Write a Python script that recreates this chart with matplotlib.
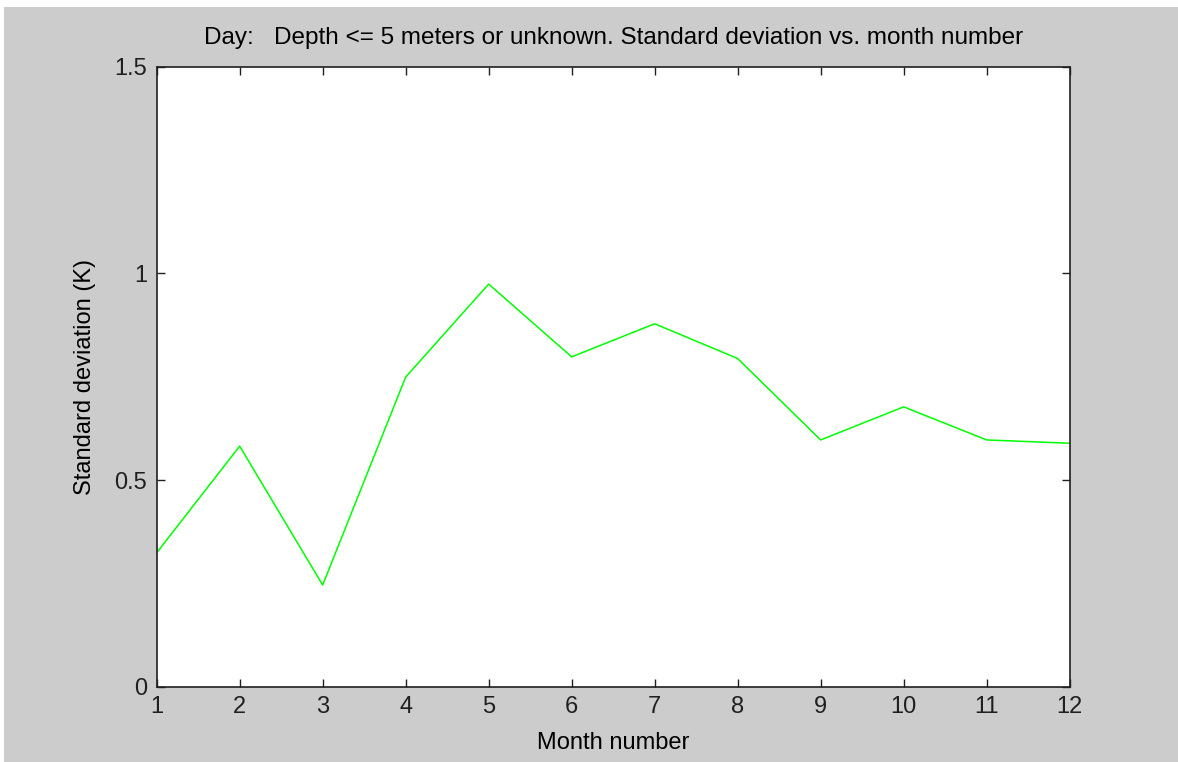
import matplotlib
matplotlib.use("Agg")
import matplotlib.pyplot as plt
from matplotlib.patches import Rectangle

months = [1, 2, 3, 4, 5, 6, 7, 8, 9, 10, 11, 12]
std_dev = [0.324, 0.582, 0.246, 0.749, 0.974, 0.798, 0.878, 0.794, 0.597, 0.677, 0.597, 0.589]
yticks = [0, 0.5, 1, 1.5]
yticklabels = ["0", "0.5", "1", "1.5"]

plt.rcParams['font.family'] = ['Liberation Sans', 'DejaVu Sans']

fig = plt.figure(figsize=(11.78, 7.62), dpi=100, facecolor='white')
# grey window background, with a thin white margin at top and left
fig.patches.append(Rectangle((4 / 1178, 0), 1 - 4 / 1178, 1 - 7 / 762,
                             transform=fig.transFigure, facecolor='#cccccc',
                             edgecolor='none', zorder=-10))

ax = fig.add_axes([0.133, 0.0988, 0.775, 0.8137])
ax.plot(months, std_dev, color='#00ff00', lw=1.1)

ax.set_xlim(1, 12)
ax.set_ylim(0, 1.5)
ax.set_xticks(months)
ax.set_yticks(yticks)
ax.set_yticklabels(yticklabels)
ax.tick_params(direction='in', length=6, width=1, top=True, right=True,
               colors='#202020', labelsize=17, pad=7)
for s in ax.spines.values():
    s.set_color('#202020')
    s.set_linewidth(1.2)

ax.set_xlabel("Month number", fontsize=17, labelpad=10)
ax.set_ylabel("Standard deviation (K)", fontsize=17, labelpad=13)
ax.set_title("Day:   Depth <= 5 meters or unknown. Standard deviation vs. month number",
             fontsize=17.5, pad=16)

fig.savefig("out.png", dpi=100, facecolor=fig.get_facecolor())
